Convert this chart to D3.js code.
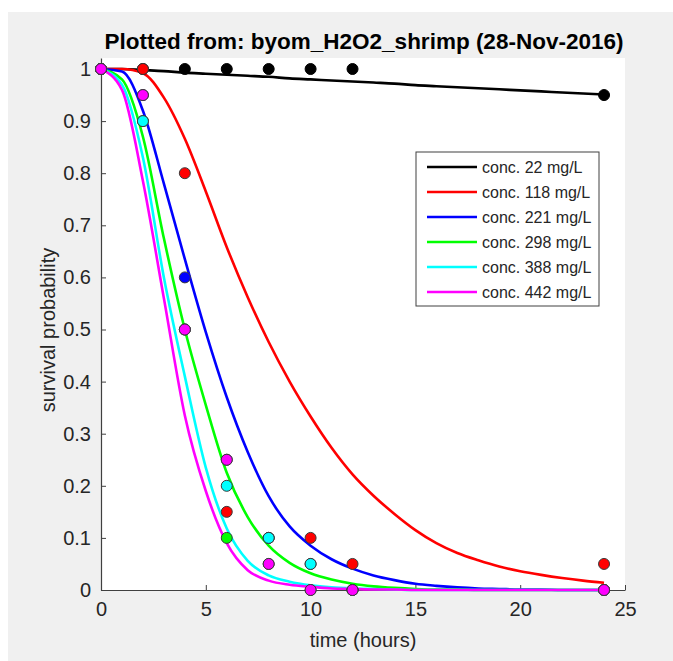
<!DOCTYPE html>
<html>
<head>
<meta charset="utf-8">
<script src="https://cdn.jsdelivr.net/npm/d3@7"></script>
<style>
  body { margin: 0; background: #ffffff; }
  svg { display: block; font-family: "Liberation Sans", Arial, sans-serif; }
</style>
</head>
<body>
<svg id="chart" width="673" height="661"></svg>
<script>
// legend labels and colours, one per exposure concentration
const labels = ["conc. 22 mg/L", "conc. 118 mg/L", "conc. 221 mg/L", "conc. 298 mg/L", "conc. 388 mg/L", "conc. 442 mg/L"];
const colors = ["#000000", "#ff0000", "#0000ff", "#00ff00", "#00ffff", "#ff00ff"];

// observed survival (markers)
const obsTimes = [0, 2, 4, 6, 8, 10, 12, 24];
const obs22  = [1, 1, 1, 1, 1, 1, 1, 0.95];
const obs118 = [1, 1, 0.8, 0.15, 0.1, 0.1, 0.05, 0.05];
const obs221 = [1, 0.95, 0.6, 0.25, 0.1, 0.05, 0, 0];
const obs298 = [1, 0.9, 0.5, 0.1, 0.05, 0, 0, 0];
const obs388 = [1, 0.9, 0.5, 0.2, 0.1, 0.05, 0, 0];
const obs442 = [1, 0.95, 0.5, 0.25, 0.05, 0, 0, 0];

// fitted model curves
const fitTimes = [0, 1, 2, 3, 4, 5, 6, 7, 8, 9, 10, 11, 12, 13, 14, 15, 16, 17, 18, 19, 20, 21, 22, 23, 24];
const fit22  = [1, 1, 0.998, 0.996, 0.993, 0.991, 0.989, 0.987, 0.985, 0.982, 0.98, 0.978, 0.976, 0.974, 0.972, 0.969, 0.967, 0.965, 0.963, 0.961, 0.959, 0.957, 0.955, 0.953, 0.951];
const fit118 = [1, 1, 0.992, 0.945, 0.866, 0.765, 0.658, 0.562, 0.476, 0.4, 0.333, 0.273, 0.222, 0.181, 0.146, 0.115, 0.09, 0.071, 0.057, 0.045, 0.036, 0.029, 0.023, 0.018, 0.014];
const fit221 = [1, 0.995, 0.92, 0.78, 0.635, 0.495, 0.37, 0.265, 0.18, 0.122, 0.085, 0.059, 0.041, 0.028, 0.019, 0.012, 0.008, 0.005, 0.003, 0.002, 0.001, 0.001, 0, 0, 0];
const fit298 = [1, 0.98, 0.87, 0.675, 0.5, 0.355, 0.225, 0.14, 0.085, 0.052, 0.032, 0.02, 0.012, 0.007, 0.004, 0.002, 0.001, 0.001, 0, 0, 0, 0, 0, 0, 0];
const fit388 = [1, 0.97, 0.83, 0.6, 0.41, 0.235, 0.118, 0.056, 0.028, 0.016, 0.009, 0.005, 0.003, 0.002, 0.001, 0, 0, 0, 0, 0, 0, 0, 0, 0, 0];
const fit442 = [1, 0.96, 0.785, 0.56, 0.335, 0.19, 0.09, 0.038, 0.018, 0.01, 0.006, 0.003, 0.002, 0.001, 0.001, 0, 0, 0, 0, 0, 0, 0, 0, 0, 0];

const xTicks = [0, 5, 10, 15, 20, 25];
const yTicks = [0, 0.1, 0.2, 0.3, 0.4, 0.5, 0.6, 0.7, 0.8, 0.9, 1];

const obsSeries = [obs22, obs118, obs221, obs298, obs388, obs442];
const fitSeries = [fit22, fit118, fit221, fit298, fit388, fit442];

var svg = d3.select("#chart");
var textColor = "#262626";

// figure background
svg.append("rect")
  .attr("x", 8).attr("y", 12)
  .attr("width", 665).attr("height", 649)
  .attr("fill", "#f0f0f0");

var x = d3.scaleLinear().domain([0, 25]).range([101, 625]);
var y = d3.scaleLinear().domain([0, 1]).range([590, 69]);
var yMax = 1.021;

// axes area
svg.append("rect")
  .attr("x", x(0)).attr("y", y(yMax))
  .attr("width", x(25) - x(0)).attr("height", y(0) - y(yMax))
  .attr("fill", "#ffffff");

var yAxis = svg.append("g")
  .attr("transform", `translate(${x(0)},0)`)
  .call(d3.axisLeft(y.copy().domain([0, yMax]).range([590, y(yMax)]))
    .tickValues(yTicks)
    .tickSizeInner(-5)
    .tickSizeOuter(0)
    .tickPadding(10)
    .tickFormat(d => (d === 0 || d === 1) ? String(d) : d.toFixed(1)));

var xAxis = svg.append("g")
  .attr("transform", `translate(0,${y(0)})`)
  .call(d3.axisBottom(x)
    .tickValues(xTicks)
    .tickSizeInner(-5)
    .tickSizeOuter(0)
    .tickPadding(12)
    .tickFormat(d3.format("d")));

[xAxis, yAxis].forEach(a => {
  a.select(".domain").attr("stroke", "#404040").attr("stroke-width", 1.2);
  a.selectAll(".tick line").attr("stroke", "#404040");
  a.selectAll(".tick text")
    .attr("fill", textColor)
    .style("font-size", "20px")
    .style("font-family", "'Liberation Sans', Arial, sans-serif");
});

// model curves
const lineGen = d3.line()
  .curve(d3.curveMonotoneX)
  .x((d, i) => x(fitTimes[i]))
  .y(d => y(d));

fitSeries.forEach((s, j) => {
  svg.append("path")
    .datum(s)
    .attr("fill", "none")
    .attr("stroke", colors[j])
    .attr("stroke-width", 2.6)
    .attr("d", lineGen);
});

// data markers
obsSeries.forEach((s, j) => {
  svg.selectAll(".pt" + j)
    .data(s)
    .enter()
    .append("circle")
    .attr("class", "pt" + j)
    .attr("cx", (d, i) => x(obsTimes[i]))
    .attr("cy", d => y(d))
    .attr("r", 5.5)
    .attr("fill", colors[j])
    .attr("stroke", j === 0 ? "#000000" : "#3a3a3a")
    .attr("stroke-width", 1);
});

// title and axis labels
svg.append("text")
  .attr("x", 364)
  .attr("y", 49)
  .attr("text-anchor", "middle")
  .attr("fill", "#000000")
  .style("font-size", "22.5px")
  .style("font-weight", "bold")
  .text("Plotted from: byom_H2O2_shrimp (28-Nov-2016)");

svg.append("text")
  .attr("x", 363)
  .attr("y", 647)
  .attr("text-anchor", "middle")
  .attr("fill", textColor)
  .style("font-size", "20px")
  .text("time (hours)");

svg.append("text")
  .attr("transform", "rotate(-90)")
  .attr("x", -330)
  .attr("y", 55)
  .attr("text-anchor", "middle")
  .attr("fill", textColor)
  .style("font-size", "20px")
  .text("survival probability");

// legend
var legend = svg.append("g").attr("transform", "translate(416,152)");
legend.append("rect")
  .attr("width", 183)
  .attr("height", 154)
  .attr("fill", "#ffffff")
  .attr("stroke", "#404040")
  .attr("stroke-width", 1);

labels.forEach((lab, j) => {
  var rowY = 15 + j * 25;
  legend.append("line")
    .attr("x1", 11).attr("x2", 61)
    .attr("y1", rowY).attr("y2", rowY)
    .attr("stroke", colors[j])
    .attr("stroke-width", 2.6);
  legend.append("text")
    .attr("x", 66)
    .attr("y", rowY)
    .attr("dy", "0.35em")
    .attr("fill", textColor)
    .style("font-size", "16px")
    .text(lab);
});
</script>
</body>
</html>
